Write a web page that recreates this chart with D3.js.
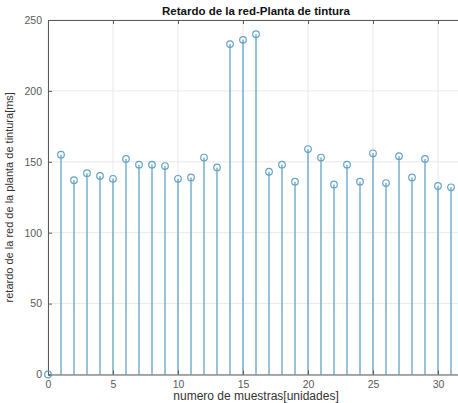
<!DOCTYPE html>
<html>
<head>
<meta charset="utf-8">
<script src="https://cdn.jsdelivr.net/npm/d3@7"></script>
<style>
  html, body { margin: 0; padding: 0; background: #fff; }
  svg { display: block; font-family: "Liberation Sans", Arial, sans-serif; }
</style>
</head>
<body>
<svg id="chart" width="458" height="403"></svg>
<script>
// Sample index and measured network delay (ms)
const muestras = d3.range(0, 32);
const retardo = [0, 155, 137, 142, 140, 138, 152, 148, 148, 147, 138, 139, 153, 146,
                 233, 236, 240, 143, 148, 136, 159, 153, 134, 148, 136, 156, 135, 154,
                 139, 152, 133, 132];
const xTicks = [0, 5, 10, 15, 20, 25, 30];
const yTicks = [0, 50, 100, 150, 200, 250];

const svg = d3.select("#chart");
const plot = { left: 48, right: 464, top: 20, bottom: 374.5 };

const x = d3.scaleLinear().domain([0, 32]).range([plot.left, plot.right]);
const y = d3.scaleLinear().domain([0, 250]).range([plot.bottom, plot.top]);

const stemColor = "#62a3c6";
const axisColor = "#5a5a5a";
const gridColor = "#e8e8e8";
const labelColor = "#5a5a5a";

// Grid
const grid = svg.append("g");
grid.selectAll(".gx").data(xTicks).join("line")
  .attr("x1", d => x(d)).attr("x2", d => x(d))
  .attr("y1", plot.top).attr("y2", plot.bottom)
  .attr("stroke", gridColor).attr("stroke-width", 1);
grid.selectAll(".gy").data(yTicks).join("line")
  .attr("x1", plot.left).attr("x2", plot.right)
  .attr("y1", d => y(d)).attr("y2", d => y(d))
  .attr("stroke", gridColor).attr("stroke-width", 1);

// Stems
const pts = muestras.map((m, i) => ({ m, v: retardo[i] }));
svg.append("g").selectAll("line").data(pts).join("line")
  .attr("x1", d => x(d.m)).attr("x2", d => x(d.m))
  .attr("y1", y(0)).attr("y2", d => y(d.v))
  .attr("stroke", stemColor).attr("stroke-width", 1.3);

// Axes box (left, bottom, top)
const xAxis = d3.axisBottom(x).tickValues(xTicks).tickSize(-4).tickPadding(6);
const yAxis = d3.axisLeft(y).tickValues(yTicks).tickSize(-4).tickPadding(6);
const xTop = d3.axisTop(x).tickValues(xTicks).tickSize(-4).tickFormat("");

const gx = svg.append("g").attr("transform", `translate(0,${plot.bottom})`).call(xAxis);
const gy = svg.append("g").attr("transform", `translate(${plot.left},0)`).call(yAxis);
const gt = svg.append("g").attr("transform", `translate(0,${plot.top})`).call(xTop);
[gx, gy, gt].forEach(g => {
  g.select(".domain").attr("stroke", axisColor).attr("stroke-width", 1);
  g.selectAll(".tick line").attr("stroke", axisColor);
  g.selectAll(".tick text").attr("fill", labelColor)
    .style("font-size", "10.5px").style("font-family", "Liberation Sans, Arial, sans-serif");
});

// Markers
svg.append("g").selectAll("circle").data(pts).join("circle")
  .attr("cx", d => x(d.m)).attr("cy", d => y(d.v))
  .attr("r", 3.3)
  .attr("fill", "none")
  .attr("stroke", stemColor).attr("stroke-width", 1.2);

// Title and axis labels
svg.append("text")
  .attr("x", 256).attr("y", 15)
  .attr("text-anchor", "middle")
  .attr("font-weight", "bold").attr("font-size", 11.5).attr("fill", "#111")
  .text("Retardo de la red-Planta de tintura");

svg.append("text")
  .attr("x", 256).attr("y", 400)
  .attr("text-anchor", "middle")
  .attr("font-size", 12).attr("fill", "#333")
  .text("numero de muestras[unidades]");

svg.append("text")
  .attr("transform", `translate(13,${(plot.top + plot.bottom) / 2}) rotate(-90)`)
  .attr("text-anchor", "middle")
  .attr("font-size", 11).attr("fill", "#333")
  .text("retardo de la red de la planta de tintura[ms]");
</script>
</body>
</html>
